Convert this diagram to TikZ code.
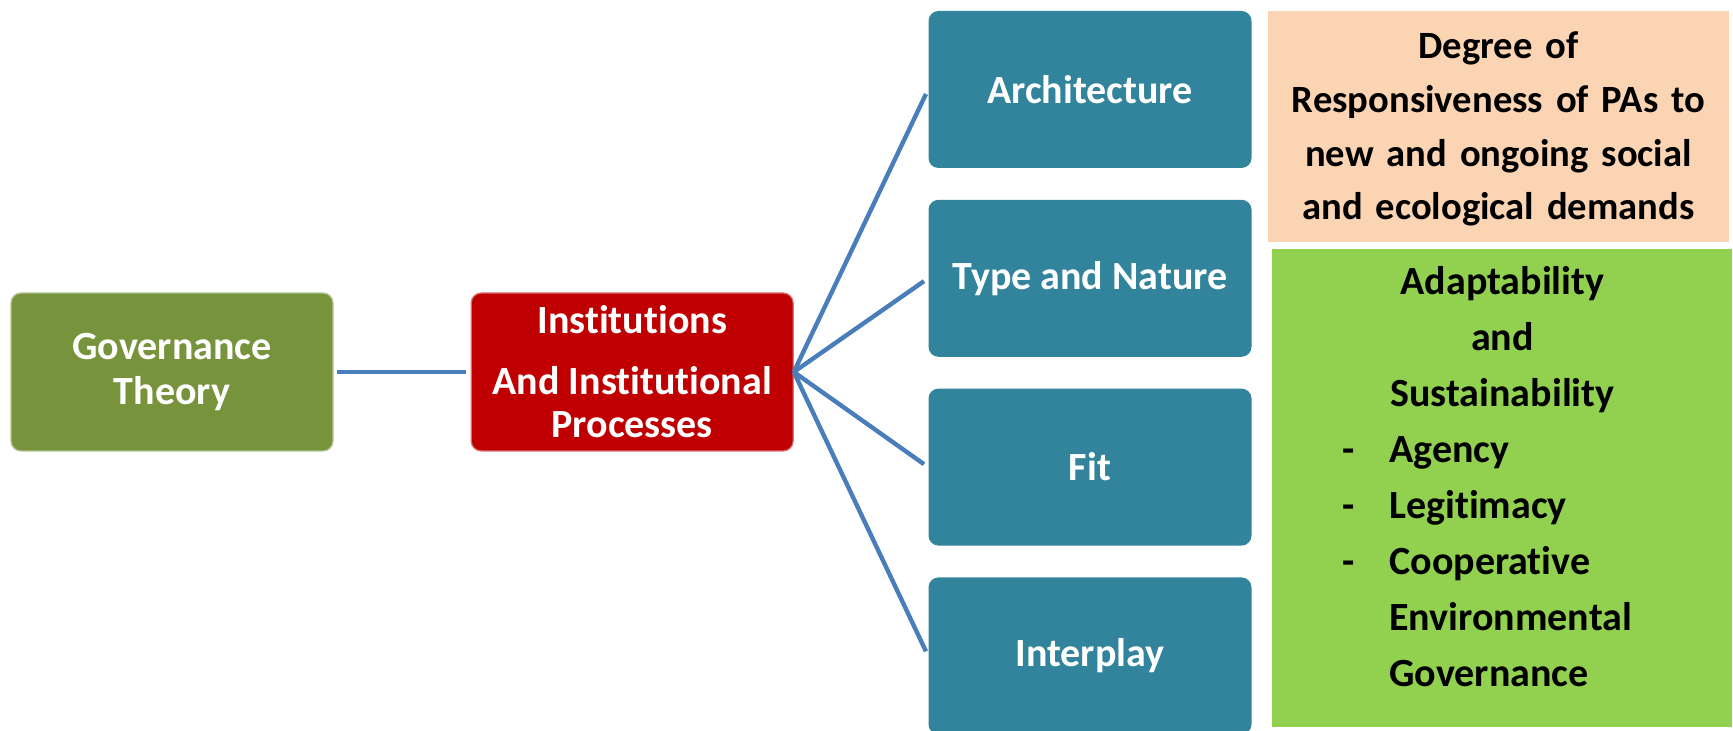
\documentclass[tikz,border=0pt]{standalone}
\usepackage{fontspec}
\setmainfont{Carlito}[Ligatures=NoCommon]
\usetikzlibrary{positioning}
\definecolor{govgreen}{HTML}{77933C}
\definecolor{instred}{HTML}{C00000}
\definecolor{aquabox}{HTML}{31849B}
\definecolor{peach}{HTML}{FBD4B4}
\definecolor{limegreen}{HTML}{92D050}
\definecolor{linkblue}{HTML}{4A7EBB}

\begin{document}
\begin{tikzpicture}[
            x = 0.5pt, y = -0.5pt, % one unit is one pixel of the slide
            shorten > = 2.5pt, % lines stop just short of the boxes
            node distance = 15.5pt, % gap between the stacked boxes
            font = \fontsize{20}{22.5}\selectfont\bfseries
        ]

        \tikzstyle{box}=[
            rounded corners = 5pt,
            minimum width = 161pt,
            minimum height = 79pt,
            inner sep = 0pt,
            text = white,
            align = center
        ]
        \tikzstyle{part}=[box, fill = aquabox, minimum width = 161.5pt, minimum height = 78.5pt]
        \tikzstyle{link}=[color = linkblue, line width = 2.2pt]

        \useasboundingbox (0,0) rectangle (1733,731);

        \node[box, fill = govgreen, draw = govgreen!55!white, line width = 0.6pt] (gov) at (172,372) {Governance\\Theory};
        \node[box, fill = instred, draw = instred!55!white, line width = 0.6pt] (inst) [right=68.5pt of gov] {Institutions\\[8pt]And Institutional\\[-1pt]Processes};

        \node[part] (arch) at (1090,89.5) {Architecture};
        \node[part] (type) [below=of arch] {Type and Nature};
        \node[part] (fit) [below=of type] {Fit};
        \node[part] (inter) [below=of fit] {Interplay};

        \node[fill = peach, minimum width = 230.5pt, minimum height = 115.5pt, inner sep = 0pt] (resp) at (1498.5,126.5) {};
        \node[anchor = base, text width = 230.5pt, align = center, inner sep = 0pt,
              font = \fontsize{19.3}{26.8}\selectfont\bfseries] (resptext) at (1498.5,59)
              {Degree of\\Responsiveness of PAs to\\new and ongoing social\\and ecological demands};

        \node[fill = limegreen, minimum width = 230pt, minimum height = 239pt, inner sep = 0pt] (adapt) at (1502,488) {};
        \node[anchor = base west, text width = 230pt, align = left, inner sep = 0pt,
              font = \fontsize{20}{28}\selectfont\bfseries] (adapttext) at (1272,295)
              {\makebox[\linewidth]{Adaptability}\\
               \makebox[\linewidth]{and}\\
               \makebox[\linewidth]{Sustainability}\\
               \hspace*{35pt}\makebox[23.5pt][l]{-}Agency\\
               \hspace*{35pt}\makebox[23.5pt][l]{-}Legitimacy\\
               \hspace*{35pt}\makebox[23.5pt][l]{-}Cooperative\\
               \hspace*{58.5pt}Environmental\\
               \hspace*{58.5pt}Governance};

        \path[link, shorten < = 1.5pt] (gov) edge (inst);
        \path[link] (inst.east) edge (arch.west);
        \path[link] (inst.east) edge (type.west);
        \path[link] (inst.east) edge (fit.west);
        \path[link] (inst.east) edge (inter.west);
    \end{tikzpicture}
\end{document}
